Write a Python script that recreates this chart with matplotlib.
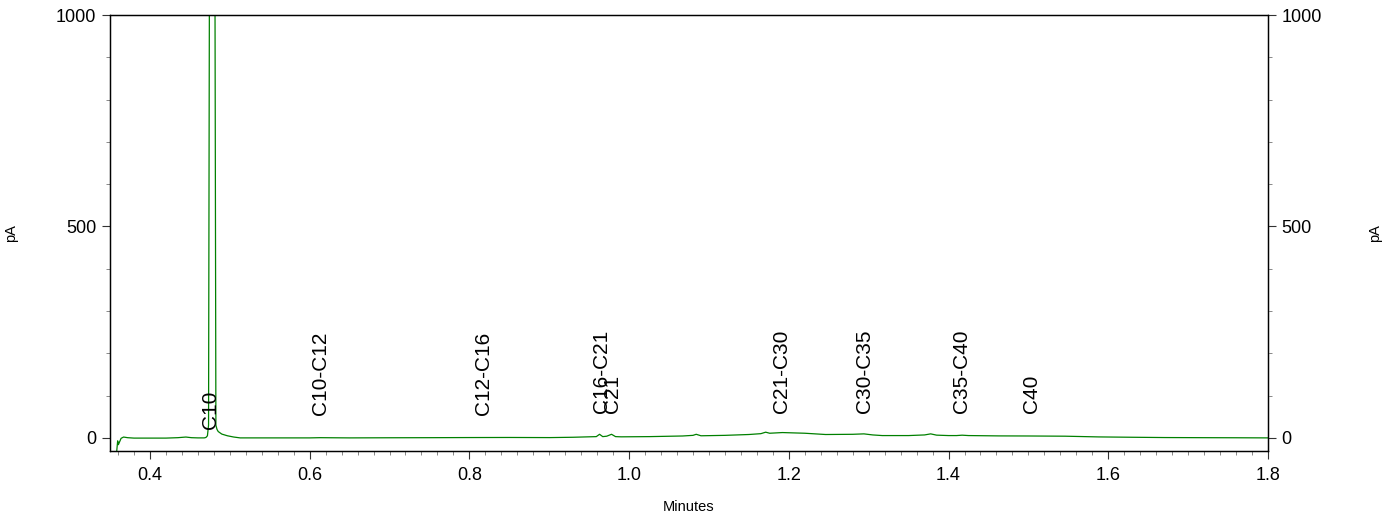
import matplotlib
matplotlib.use("Agg")
import matplotlib.pyplot as plt
from matplotlib.ticker import MultipleLocator

plt.rcParams['font.family'] = ['Liberation Sans', 'DejaVu Sans']

# retention time (min) and detector signal (pA)
rt_min = [0.3580, 0.3596, 0.3605, 0.3639, 0.3670, 0.3720, 0.3800, 0.4000,
          0.4200, 0.4350, 0.4450, 0.4520, 0.4600, 0.4680, 0.4701, 0.4720,
          0.4734, 0.4778, 0.4826, 0.4840, 0.4855, 0.4900, 0.4970, 0.5050,
          0.5130, 0.5500, 0.6000, 0.6130, 0.6500, 0.7000, 0.7500, 0.8000,
          0.8500, 0.9005, 0.9300, 0.9589, 0.9630, 0.9670, 0.9720, 0.9780,
          0.9830, 0.9900, 1.0255, 1.0670, 1.0800, 1.0840, 1.0900, 1.1200,
          1.1500, 1.1650, 1.1710, 1.1760, 1.1920, 1.2200, 1.2460, 1.2800,
          1.2940, 1.3050, 1.3170, 1.3500, 1.3700, 1.3776, 1.3850, 1.4000,
          1.4100, 1.4170, 1.4250, 1.4630, 1.5000, 1.5460, 1.5880, 1.6300,
          1.6710, 1.7200, 1.7600, 1.8000]
signal_pa = [-40, -7, -16, -1, 2, 0.5, -0.5, -0.5,
             -0.5, 0.5, 2, 0.5, 0, 0, 1, 5,
             30, 4300, 30, 20, 15, 9, 5, 2,
             0, 0, 0, 0.5, 0, 0.3, 0.5, 0.8,
             1.0, 0.7, 1.5, 3, 8.5, 3, 4, 8.5,
             3, 2.5, 3, 4.5, 6, 8.5, 5, 6,
             8, 10, 13.5, 11, 12.6, 11, 8, 8.5,
             9.5, 7, 5.5, 5.5, 7, 9.5, 6.5, 5.5,
             5.5, 6.4, 5.5, 4.7, 4.5, 4, 2.3, 1.5,
             0.8, 0.5, 0.3, 0]

# integration window labels
peak_names = ['C10', 'C10-C12', 'C12-C16', 'C16-C21', 'C21',
              'C21-C30', 'C30-C35', 'C35-C40', 'C40']
peak_rt = [0.4764, 0.6130, 0.8171, 0.9655, 0.9793,
           1.1905, 1.2943, 1.4168, 1.5043]
label_y = [22, 54, 54, 58, 58, 60, 58, 58, 58]

fig = plt.figure(figsize=(13.88, 5.15), dpi=100)
ax = fig.add_axes([110 / 1388, 1 - 451 / 515, 1158 / 1388, 436 / 515])

ax.plot(rt_min, signal_pa, color='#008000', lw=0.9)

for name, x, y in zip(peak_names, peak_rt, label_y):
    ax.text(x, y, name, rotation=90, ha='center', va='bottom', fontsize=15)

ax.set_xlim(0.35, 1.8)
ax.set_ylim(-31, 1000)
ax.xaxis.set_major_locator(MultipleLocator(0.2))
ax.xaxis.set_minor_locator(MultipleLocator(0.02))
ax.yaxis.set_major_locator(MultipleLocator(500))
ax.yaxis.set_minor_locator(MultipleLocator(100))
ax.set_xticks([0.4, 0.6, 0.8, 1.0, 1.2, 1.4, 1.6, 1.8])
ax.set_xticklabels(['0.4', '0.6', '0.8', '1.0', '1.2', '1.4', '1.6', '1.8'])

ax2 = ax.twinx()
ax2.set_ylim(ax.get_ylim())
ax2.yaxis.set_major_locator(MultipleLocator(500))
ax2.yaxis.set_minor_locator(MultipleLocator(100))

for a in (ax, ax2):
    a.tick_params(which='major', length=5.8, width=0.8, color='#333333',
                  labelsize=13, pad=4)
    a.tick_params(which='minor', length=2.9, width=0.7, color='#888888')
    for sp in a.spines.values():
        sp.set_linewidth(0.9)
ax.tick_params(axis='x', which='major', pad=6)

ax.set_xlabel('Minutes', fontsize=10.5, labelpad=11)
ax.set_ylabel('pA', fontsize=10.5)
ax2.set_ylabel('pA', fontsize=10.5)
ax.yaxis.set_label_coords((18 - 110) / 1158, 0.5)
ax2.yaxis.set_label_coords((1368 - 110) / 1158, 0.5)

fig.savefig('out.png', dpi=100)
